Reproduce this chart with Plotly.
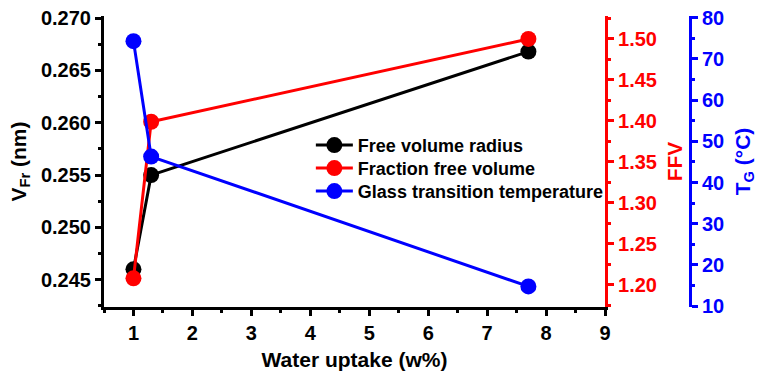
import plotly.graph_objects as go

# Water uptake (w%) for the three membranes
water_uptake = [1.0, 1.3, 7.7]

# Free volume radius V_Fr (nm)
free_volume_radius = [0.246, 0.255, 0.2668]
# Fraction free volume (FFV)
fraction_free_volume = [1.208, 1.399, 1.500]
# Glass transition temperature T_G (°C)
glass_transition = [74.3, 46.3, 14.8]

series_names = ["Free volume radius", "Fraction free volume", "Glass transition temperature"]
x_ticks = [1, 2, 3, 4, 5, 6, 7, 8, 9]
y1_ticks = [0.245, 0.250, 0.255, 0.260, 0.265, 0.270]
y2_ticks = [1.20, 1.25, 1.30, 1.35, 1.40, 1.45, 1.50]
y3_ticks = [10, 20, 30, 40, 50, 60, 70, 80]

BLACK, RED, BLUE = "#000000", "#ff0000", "#0000ff"
FONT = "Liberation Sans, Arial, sans-serif"


def b(s):
    return f"<b>{s}</b>"


# one legend box per series so the rows can sit close together
legend_ids = ["legend", "legend2", "legend3"]
legend_tops = [0.619, 0.540, 0.461]

fig = go.Figure()
fig.add_trace(go.Scatter(
    x=water_uptake, y=free_volume_radius, name=b(series_names[0]),
    mode="lines+markers", line=dict(color=BLACK, width=3),
    marker=dict(color=BLACK, size=16), yaxis="y", legend=legend_ids[0]))
fig.add_trace(go.Scatter(
    x=water_uptake, y=fraction_free_volume, name=b(series_names[1]),
    mode="lines+markers", line=dict(color=RED, width=3),
    marker=dict(color=RED, size=16), yaxis="y2", legend=legend_ids[1]))
fig.add_trace(go.Scatter(
    x=water_uptake, y=glass_transition, name=b(series_names[2]),
    mode="lines+markers", line=dict(color=BLUE, width=3),
    marker=dict(color=BLUE, size=16), yaxis="y3", legend=legend_ids[2]))


def axis_style(color):
    return dict(
        showline=True, linecolor=color, linewidth=3, mirror=False,
        ticks="outside", ticklen=6, tickwidth=2.5, tickcolor=color,
        showgrid=False, zeroline=False, automargin=False,
        tickfont=dict(family=FONT, size=20, color=color),
    )


def minor(color, step, start):
    return dict(ticks="outside", ticklen=3, tickwidth=2.5, tickcolor=color, dtick=step, tick0=start)


def legend_box(top):
    return dict(
        x=0.353, y=top, xanchor="left", yanchor="top",
        bgcolor="rgba(0,0,0,0)", borderwidth=0,
        font=dict(family=FONT, size=18, color=BLACK),
        itemwidth=37,
    )


fig.update_layout(
    width=757, height=372,
    margin=dict(l=104, r=67, t=16, b=65, autoexpand=False),
    paper_bgcolor="white", plot_bgcolor="white",
    font=dict(family=FONT, color=BLACK),
    showlegend=True,
    legend=legend_box(legend_tops[0]),
    legend2=legend_box(legend_tops[1]),
    legend3=legend_box(legend_tops[2]),
    xaxis=dict(
        **axis_style(BLACK),
        domain=[0, 0.855], range=[0.5, 9],
        tickvals=x_ticks, ticktext=[b(v) for v in x_ticks],
        minor=minor(BLACK, 0.5, 0.5),
        title=dict(text=b("Water uptake (w%)"), standoff=10,
                   font=dict(family=FONT, size=21, color=BLACK)),
    ),
    yaxis=dict(
        **axis_style(BLACK),
        range=[0.2424, 0.2702],
        tickvals=y1_ticks, ticktext=[b(f"{v:.3f}") for v in y1_ticks],
        minor=minor(BLACK, 0.0025, 0.2375),
        title=dict(text=b("V<sub>Fr</sub> (nm)"), standoff=9,
                   font=dict(family=FONT, size=21, color=BLACK)),
    ),
    yaxis2=dict(
        **axis_style(RED),
        overlaying="y", side="right", anchor="x",
        range=[1.173, 1.528],
        tickvals=y2_ticks, ticktext=[b(f"{v:.2f}") for v in y2_ticks],
        minor=minor(RED, 0.025, 1.175),
        title=dict(text=b("FFV"), standoff=12,
                   font=dict(family=FONT, size=21, color=RED)),
    ),
    yaxis3=dict(
        **axis_style(BLUE),
        overlaying="y", side="right", anchor="free", position=1.0,
        range=[9.8, 80.4],
        tickvals=y3_ticks, ticktext=[b(v) for v in y3_ticks],
        minor=minor(BLUE, 5, 5),
        title=dict(text=b("T<sub>G</sub> (°C)"), standoff=12,
                   font=dict(family=FONT, size=21, color=BLUE)),
    ),
)

fig.write_html("out.html")
